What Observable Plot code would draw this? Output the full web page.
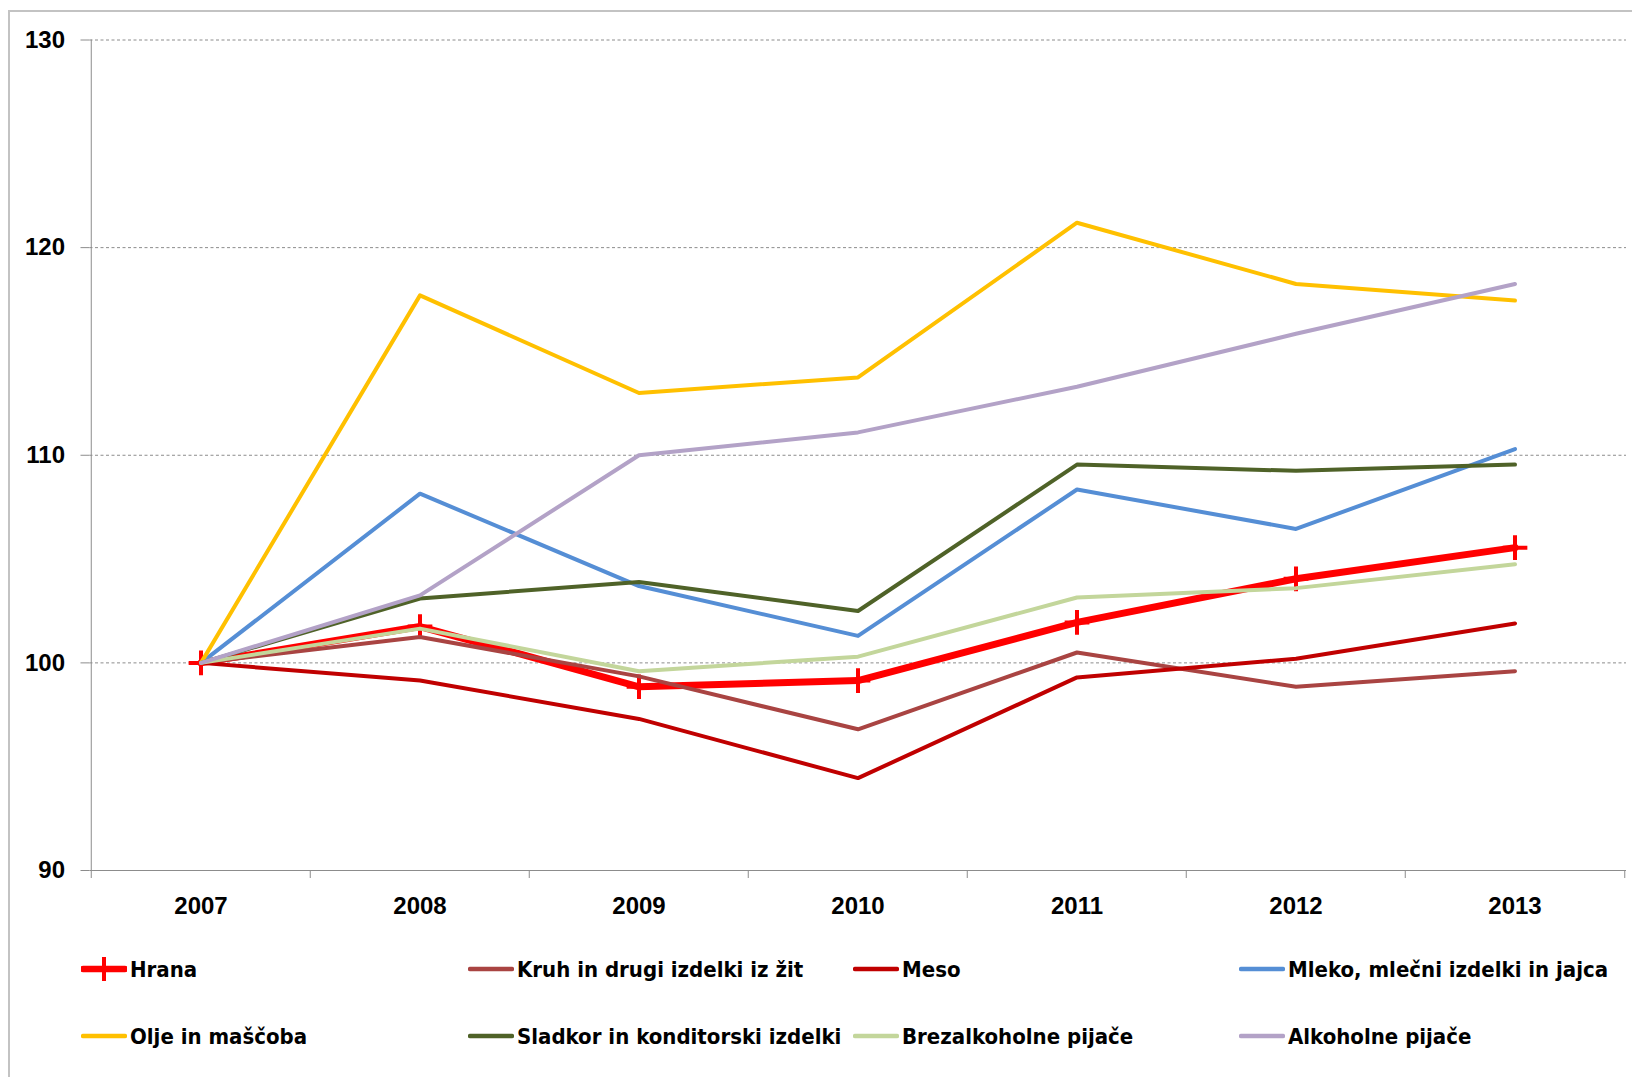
<!DOCTYPE html>
<html>
<head>
<meta charset="utf-8">
<script src="https://cdn.jsdelivr.net/npm/d3@7"></script>
<script src="https://cdn.jsdelivr.net/npm/@observablehq/plot@0.6"></script>
<style>
  html, body { margin: 0; padding: 0; background: #fff; width: 1632px; height: 1077px; overflow: hidden; }
  #frame { position: absolute; left: 8px; top: 10px; width: 2000px; height: 2000px; border: 2px solid #c3c3c3; box-sizing: border-box; }
  #chart { position: absolute; left: 0; top: 0; }
  #legend { position: absolute; left: 0; top: 0; width: 1632px; height: 1077px; pointer-events: none; }
  .item { position: absolute; display: flex; align-items: center; height: 30px; white-space: nowrap;
          font-family: "Liberation Sans Narrow", "Arial Narrow", "DejaVu Sans Condensed", "Liberation Sans", sans-serif;
          font-weight: bold; font-size: 22px; color: #000; }
  .item svg { display: block; margin-right: 3px; }
</style>
</head>
<body>
<div id="frame"></div>
<div id="chart"></div>
<div id="legend"></div>
<script>
// ---- data ----
const years = ["2007", "2008", "2009", "2010", "2011", "2012", "2013"];
const seriesNames = [
  "Hrana",
  "Kruh in drugi izdelki iz žit",
  "Meso",
  "Mleko, mlečni izdelki in jajca",
  "Olje in maščoba",
  "Sladkor in konditorski izdelki",
  "Brezalkoholne pijače",
  "Alkoholne pijače"
];
const seriesColors = ["#ff0000", "#a94442", "#c00000", "#558ed5", "#ffc000", "#4f6228", "#c3d69b", "#b3a2c7"];
const hrana   = [100, 101.75, 98.85, 99.15, 101.95, 104.05, 105.55];
const kruh    = [100, 101.25, 99.35, 96.8, 100.5, 98.85, 99.6];
const meso    = [100, 99.15, 97.3, 94.45, 99.3, 100.2, 101.9];
const mleko   = [100, 108.15, 103.7, 101.3, 108.35, 106.45, 110.3];
const olje    = [100, 117.7, 113.0, 113.75, 121.2, 118.25, 117.45];
const sladkor = [100, 103.1, 103.9, 102.5, 109.55, 109.25, 109.55];
const brezalk = [100, 101.65, 99.6, 100.3, 103.15, 103.6, 104.75];
const alkoh   = [100, 103.25, 110.0, 111.1, 113.3, 115.85, 118.25];
const yTicks = [90, 100, 110, 120, 130];

const seriesValues = [hrana, kruh, meso, mleko, olje, sladkor, brezalk, alkoh];

// ---- layout ----
const W = 1632, H = 930;
const ml = 89.5, mr = 6, mt = 39.5, mb = 60;
const bw = (W - ml - mr) / years.length;
const gray = "#8c8c8c";
const font = '"Liberation Sans", Arial, sans-serif';

const rows = (vals) => years.map((y, i) => ({year: y, value: vals[i]}));

const lineMarks = seriesValues.map((vals, k) =>
  Plot.line(rows(vals), {
    x: "year", y: "value",
    stroke: seriesColors[k],
    strokeWidth: k === 0 ? 7 : 4,
    strokeLinejoin: "round", strokeLinecap: "round"
  })
);

const chart = Plot.plot({
  width: W, height: H,
  marginLeft: ml, marginRight: mr, marginTop: mt, marginBottom: mb,
  style: {fontFamily: font, fontSize: "24px", fontWeight: "bold", color: "#000", background: "transparent", overflow: "visible"},
  x: {type: "band", domain: years, padding: 0, label: null},
  y: {domain: [90, 130], label: null},
  marks: [
    Plot.gridY(yTicks.slice(1), {stroke: gray, strokeOpacity: 1, strokeDasharray: "3,2.5"}),
    Plot.ruleX([years[0]], {dx: -bw / 2, stroke: gray, strokeWidth: 1}),
    Plot.ruleY([yTicks[0]], {stroke: gray, strokeWidth: 1}),
    Plot.axisX(years, {tickSize: 8, tickFormat: () => "", dx: -bw / 2, stroke: gray, label: null}),
    Plot.axisX([years[years.length - 1]], {tickSize: 8, tickFormat: () => "", dx: bw / 2, stroke: gray, label: null}),
    Plot.axisX(years, {tickSize: 0, tickPadding: 26, fontSize: 24, fontWeight: "bold", fill: "#000", label: null}),
    Plot.axisY(yTicks, {tickSize: 9, tickPadding: 16, stroke: gray, fontSize: 24, fontWeight: "bold", fill: "#000", label: null}),
    lineMarks[0],
    Plot.dot(rows(hrana), {x: "year", y: "value", symbol: "plus", r: 8, stroke: seriesColors[0], strokeWidth: 4}),
    ...lineMarks.slice(1)
  ]
});
document.getElementById("chart").appendChild(chart);

// ---- legend (below the plot area) ----
const legend = document.getElementById("legend");
const colLeft = [81, 468, 853, 1239];
const rowMid = [969, 1036];
seriesNames.forEach((name, i) => {
  const col = i % 4, row = Math.floor(i / 4);
  const item = document.createElement("div");
  item.className = "item";
  item.style.left = colLeft[col] + "px";
  item.style.top = (rowMid[row] - 15) + "px";
  const ns = "http://www.w3.org/2000/svg";
  const sw = document.createElementNS(ns, "svg");
  sw.setAttribute("width", 46); sw.setAttribute("height", 30);
  const ln = document.createElementNS(ns, "line");
  ln.setAttribute("x1", 2); ln.setAttribute("x2", 44);
  ln.setAttribute("y1", 15); ln.setAttribute("y2", 15);
  ln.setAttribute("stroke", seriesColors[i]);
  ln.setAttribute("stroke-width", i === 0 ? 6.5 : 4.5);
  ln.setAttribute("stroke-linecap", "round");
  sw.appendChild(ln);
  if (i === 0) {
    const p = document.createElementNS(ns, "path");
    p.setAttribute("d", "M11,15H35M23,3V27");
    p.setAttribute("stroke", seriesColors[i]);
    p.setAttribute("stroke-width", 4);
    sw.appendChild(p);
  }
  item.appendChild(sw);
  const t = document.createElement("span");
  t.textContent = name;
  item.appendChild(t);
  legend.appendChild(item);
});
</script>
</body>
</html>
